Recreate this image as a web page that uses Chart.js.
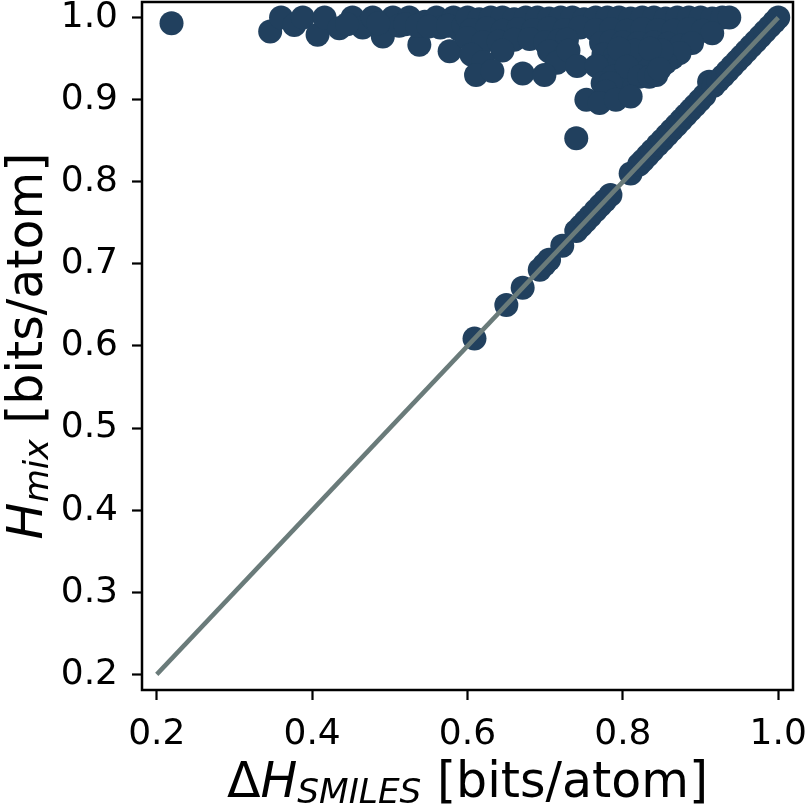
<!DOCTYPE html>
<html><head><meta charset="utf-8">
<script src="https://cdn.jsdelivr.net/npm/chart.js@4/dist/chart.umd.min.js"></script>
<style>html,body{margin:0;padding:0;background:#fff}canvas{display:block}</style>
</head><body>
<canvas id="c" width="805" height="805"></canvas>
<script>
// ---- data ----
const clusterX = [
 0.219,0.346,0.360,0.377,0.388,0.407,0.416,0.435,0.452,0.465,0.478,0.491,0.504,0.512,0.525,0.538,0.545,0.560,0.565,0.577,0.582,0.590,
 0.445,0.485,0.520,0.535,0.550,0.575,0.595,
 0.600,0.615,0.630,0.645,0.660,0.675,0.690,0.705,0.720,0.735,0.750,0.765,0.780,0.795,0.810,0.825,0.840,0.855,0.870,0.885,0.900,0.915,0.928,0.937,
 0.605,0.625,0.645,0.665,0.685,0.705,0.725,0.745,0.765,0.785,0.805,0.825,0.845,0.865,0.885,0.903,0.915,
 0.600,0.620,0.640,0.660,0.680,0.700,0.718,0.728,0.772,0.785,0.800,0.820,0.840,0.858,0.875,0.889,
 0.605,0.645,0.705,0.725,0.775,0.790,0.805,0.825,0.845,0.864,0.873,
 0.620,0.715,0.730,0.780,0.795,0.815,0.835,0.855,0.850,0.815,0.835,0.795,0.800,
 0.611,0.632,0.671,0.699,0.741,0.766,0.787,0.805,0.821,0.834,0.843,0.847,
 0.774,0.784,0.778,0.753,0.770,0.791,0.810,
 0.740
];
const clusterY = [
 0.993,0.983,1.000,0.991,1.000,0.979,1.000,0.987,1.000,0.988,1.000,0.977,1.000,0.990,1.000,0.967,0.995,1.000,0.988,0.959,1.000,0.985,
 0.992,0.993,0.992,0.990,0.989,0.990,0.990,
 1.000,0.998,1.000,1.000,0.998,1.000,1.000,0.999,1.000,1.000,0.998,1.000,1.000,1.000,0.999,1.000,1.000,0.999,1.000,1.000,1.000,0.999,1.000,1.000,
 0.985,0.987,0.984,0.986,0.985,0.987,0.985,0.988,0.985,0.986,0.984,0.986,0.985,0.984,0.986,0.984,0.981,
 0.975,0.970,0.971,0.973,0.974,0.970,0.972,0.973,0.969,0.971,0.970,0.969,0.970,0.968,0.966,0.969,
 0.955,0.960,0.959,0.953,0.955,0.953,0.955,0.952,0.950,0.951,0.957,
 0.946,0.945,0.960,0.940,0.945,0.945,0.940,0.945,0.960,0.960,0.962,0.962,0.925,
 0.930,0.935,0.932,0.930,0.941,0.941,0.928,0.940,0.928,0.928,0.930,0.937,
 0.920,0.920,0.910,0.900,0.896,0.900,0.904,
 0.853
];
const diagX = [0.609,0.650,0.671,0.693,0.699,0.705,0.722,0.740,0.746,0.752,0.758,0.765,0.771,0.777,0.784,0.810,0.821,0.826,0.832,0.838,0.845,0.851,0.857,0.863,0.869,0.875,0.881,0.887,0.893,0.899,0.905,0.911,0.917,0.923,0.929,0.935,0.941,0.947,0.953,0.959,0.965,0.971,0.977,0.983,0.989,0.995,1.000];
const diagY = [0.609,0.650,0.671,0.693,0.699,0.705,0.722,0.740,0.746,0.752,0.758,0.765,0.771,0.777,0.784,0.810,0.821,0.826,0.832,0.838,0.845,0.851,0.857,0.863,0.869,0.875,0.881,0.887,0.893,0.899,0.905,0.922,0.917,0.923,0.929,0.935,0.941,0.947,0.953,0.959,0.965,0.971,0.977,0.983,0.989,0.995,1.000];
const refLineX = [0.2, 1.0];
const refLineY = [0.2, 1.0];
const xTickValues = [0.2, 0.4, 0.6, 0.8, 1.0];
const yTickValues = [0.2, 0.3, 0.4, 0.5, 0.6, 0.7, 0.8, 0.9, 1.0];
const xTitleParts = [{t:'Δ'},{t:'H',it:true},{t:'SMILES',it:true,sub:true},{t:' [bits/atom]'}];
const yTitleParts = [{t:'H',it:true},{t:'mix',it:true,sub:true},{t:' [bits/atom]'}];

// ---- styling ----
const FONT = 'DejaVu Sans';
const TITLE_SIZE = 49;
const POINT_COLOR = '#21405e';
const LINE_COLOR = '#6a7b7a';

function richWidth(ctx, parts, size){
  let w = 0;
  for (const p of parts){
    const s = p.sub ? size*0.7 : size;
    ctx.font = (p.it?'italic ':'') + s + 'px "' + FONT + '"';
    w += ctx.measureText(p.t).width;
  }
  return w;
}
function drawRich(ctx, parts, cx, baseY, size){
  const total = richWidth(ctx, parts, size);
  let x = cx - total/2;
  ctx.fillStyle = '#000';
  ctx.textBaseline = 'alphabetic';
  ctx.textAlign = 'left';
  for (const p of parts){
    const s = p.sub ? size*0.7 : size;
    ctx.font = (p.it?'italic ':'') + s + 'px "' + FONT + '"';
    ctx.fillText(p.t, x, baseY + (p.sub ? size*0.13 : 0));
    x += ctx.measureText(p.t).width;
  }
}

const framePlugin = {
  id: 'frameAndTitles',
  afterDraw(chart){
    const {ctx, chartArea:a} = chart;
    ctx.save();
    ctx.strokeStyle = '#000';
    ctx.lineWidth = 2.5;
    ctx.strokeRect(a.left, a.top, a.right - a.left, a.bottom - a.top);
    drawRich(ctx, xTitleParts, (a.left + a.right)/2, 797, TITLE_SIZE);
    ctx.translate(42, (a.top + a.bottom)/2);
    ctx.rotate(-Math.PI/2);
    drawRich(ctx, yTitleParts, 0, 0, TITLE_SIZE);
    ctx.restore();
  }
};

function zeroPad(s){ s.paddingTop = 0; s.paddingBottom = 0; s.paddingLeft = 0; s.paddingRight = 0; }

const tickFont = {family: FONT, size: 36};

new Chart(document.getElementById('c'), {
  type: 'scatter',
  data: {
    datasets: [
      {
        label: 'y = x',
        data: refLineX.map((x,i)=>({x, y: refLineY[i]})),
        showLine: true,
        borderColor: LINE_COLOR,
        borderWidth: 4.5,
        pointRadius: 0,
        pointHoverRadius: 0,
        order: 0
      },
      {
        label: 'molecules',
        data: clusterX.map((x,i)=>({x, y: clusterY[i]})).concat(diagX.map((x,i)=>({x, y: diagY[i]}))),
        backgroundColor: POINT_COLOR,
        pointBackgroundColor: POINT_COLOR,
        pointBorderWidth: 0,
        pointRadius: 12,
        pointHoverRadius: 12,
        order: 1
      }
    ]
  },
  options: {
    responsive: false,
    animation: false,
    devicePixelRatio: 1,
    layout: {autoPadding: false, padding: {left: 0, top: 2, right: 12, bottom: 0}},
    plugins: {legend: {display: false}, tooltip: {enabled: false}},
    events: [],
    scales: {
      x: {
        type: 'linear', min: 0.181, max: 1.019,
        afterBuildTicks: s => { s.ticks = xTickValues.map(v => ({value: v})); },
        afterFit: s => { s.height = 115; zeroPad(s); },
        ticks: {callback: v => Number(v).toFixed(1), font: tickFont, color: '#000', padding: 13, maxRotation: 0, autoSkip: false},
        grid: {drawOnChartArea: false, drawTicks: true, tickLength: 10, tickWidth: 2.2, tickColor: '#000'},
        border: {display: false}
      },
      y: {
        type: 'linear', min: 0.181, max: 1.019,
        afterBuildTicks: s => { s.ticks = yTickValues.map(v => ({value: v})); },
        afterFit: s => { s.width = 142; zeroPad(s); },
        ticks: {callback: v => Number(v).toFixed(1), font: tickFont, color: '#000', padding: 14, autoSkip: false},
        grid: {drawOnChartArea: false, drawTicks: true, tickLength: 10, tickWidth: 2.2, tickColor: '#000'},
        border: {display: false}
      }
    }
  },
  plugins: [framePlugin]
});
</script>
</body></html>
